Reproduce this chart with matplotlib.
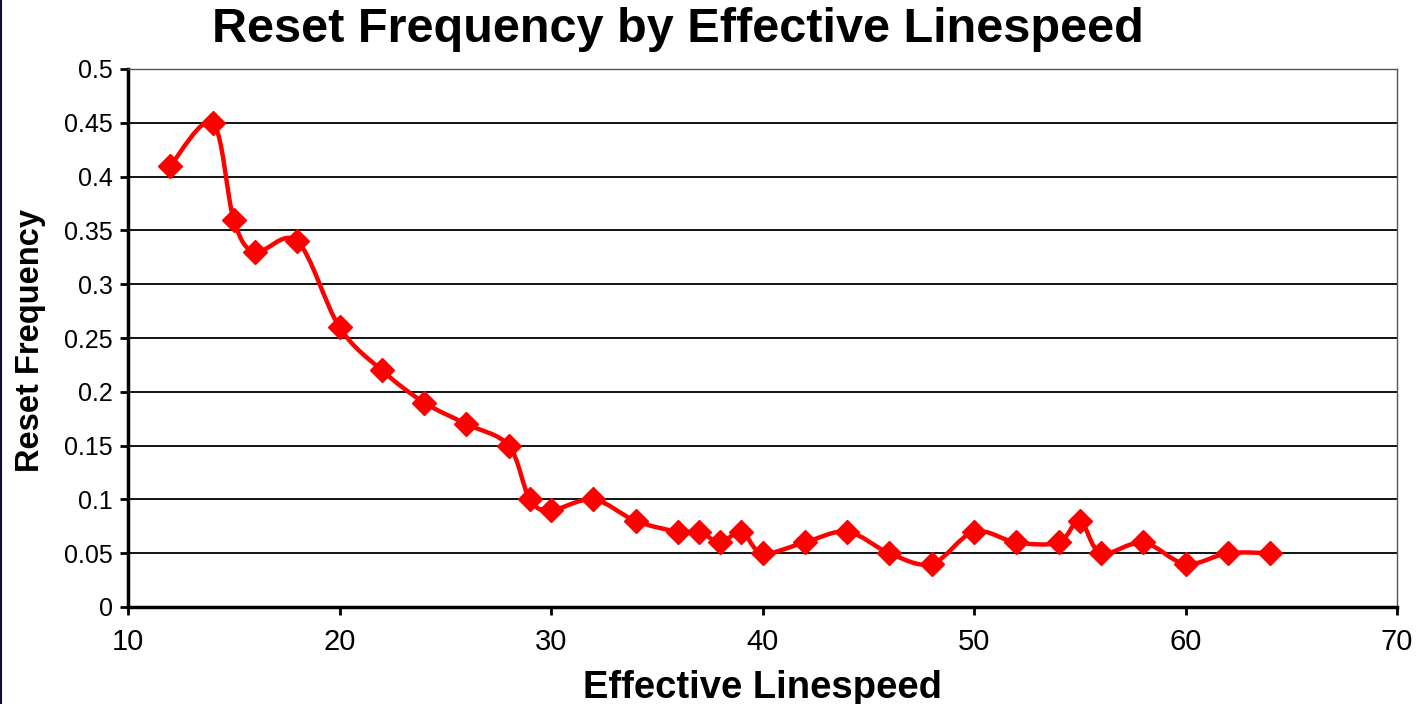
import matplotlib
matplotlib.use("Agg")
import matplotlib.pyplot as plt
import numpy as np
from matplotlib.path import Path
from matplotlib.patches import PathPatch
from matplotlib.lines import Line2D

linespeed = [12, 14, 15, 16, 18, 20, 22, 24, 26, 28, 29, 30, 32, 34, 36, 37, 38, 39,
             40, 42, 44, 46, 48, 50, 52, 54, 55, 56, 58, 60, 62, 64]
reset_freq = [0.41, 0.45, 0.36, 0.33, 0.34, 0.26, 0.22, 0.19, 0.17, 0.15, 0.10, 0.09,
              0.10, 0.08, 0.07, 0.07, 0.06, 0.07, 0.05, 0.06, 0.07, 0.05, 0.04, 0.07,
              0.06, 0.06, 0.08, 0.05, 0.06, 0.04, 0.05, 0.05]
x_ticks = [10, 20, 30, 40, 50, 60, 70]
y_ticks = [0, 0.05, 0.1, 0.15, 0.2, 0.25, 0.3, 0.35, 0.4, 0.45, 0.5]
y_ticklabels = ["0", "0.05", "0.1", "0.15", "0.2", "0.25", "0.3", "0.35", "0.4", "0.45", "0.5"]

plt.rcParams['font.family'] = ['Liberation Sans', 'DejaVu Sans']

fig = plt.figure(figsize=(14.18, 7.04), dpi=100)
ax = fig.add_axes([128/1418, 1 - 607/704, (1397-128)/1418, (607-69)/704])

# Excel-style smoothed line (Catmull-Rom as cubic Bezier)
P = np.column_stack([linespeed, reset_freq]).astype(float)
n = len(P)
verts = [P[0]]
codes = [Path.MOVETO]
for i in range(n - 1):
    p0 = P[i - 1] if i > 0 else P[i]
    p1 = P[i]
    p2 = P[i + 1]
    p3 = P[i + 2] if i + 2 < n else P[i + 1]
    c1 = p1 + (p2 - p0) / 6.0
    c2 = p2 - (p3 - p1) / 6.0
    verts += [c1, c2, p2]
    codes += [Path.CURVE4] * 3
ax.add_patch(PathPatch(Path(verts, codes), facecolor='none', edgecolor='#ff0000',
                       linewidth=3.2, zorder=3))
ax.plot(linespeed, reset_freq, linestyle='none', marker='D', markersize=12.5,
        color='#ff0000', markeredgecolor='#ff0000', zorder=4)

ax.set_xlim(10, 70)
ax.set_ylim(0, 0.5)
ax.set_xticks(x_ticks)
ax.set_yticks(y_ticks)
ax.set_yticklabels(y_ticklabels)
ax.grid(axis='y', color='black', linewidth=1.3)
ax.set_axisbelow(True)
for s in ['top', 'right']:
    ax.spines[s].set_color('#555555')
    ax.spines[s].set_linewidth(1.0)
for s in ['left', 'bottom']:
    ax.spines[s].set_color('black')
    ax.spines[s].set_linewidth(2.5)
ax.tick_params(axis='both', colors='black', width=2, length=6)
ax.tick_params(axis='x', labelsize=21, pad=9)
ax.tick_params(axis='y', labelsize=18, pad=5)

ax.set_xlabel('Effective Linespeed', fontsize=27.5, fontweight='bold')
ax.set_ylabel('Reset Frequency', fontsize=23.5, fontweight='bold')
ax.xaxis.label.set_va('center')
ax.yaxis.label.set_va('center')
ax.xaxis.set_label_coords((763 - 128) / 1269, (607 - 688) / 538)
ax.yaxis.set_label_coords((31 - 128) / 1269, (607 - 340) / 538)
fig.text(678/1418, 1 - 30/704, 'Reset Frequency by Effective Linespeed', fontsize=35,
         fontweight='bold', ha='center', va='center')

fig.add_artist(Line2D([0.0008, 0.0008], [0, 1], transform=fig.transFigure,
                      color='#1a0a3a', linewidth=1.5))

fig.savefig('out.png', dpi=100)
